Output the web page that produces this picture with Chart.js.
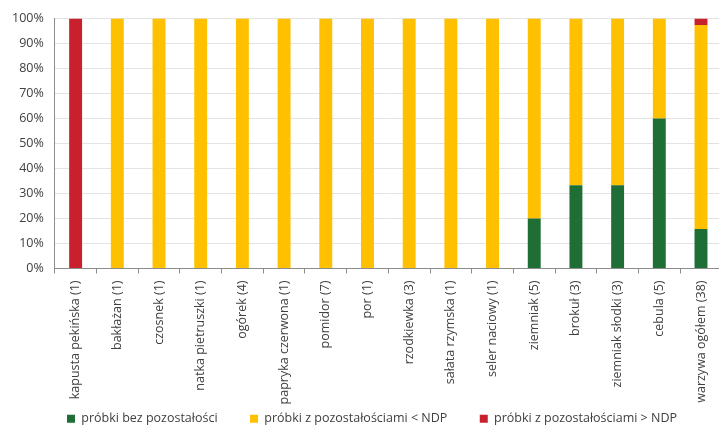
<!DOCTYPE html>
<html>
<head>
<meta charset="utf-8">
<script src="https://cdn.jsdelivr.net/npm/chart.js@4"></script>
<style>
  html, body { margin: 0; padding: 0; background: #fff; overflow: hidden; }
</style>
</head>
<body>
<canvas id="chartCanvas" width="723" height="429"></canvas>
<script>
var categories = ["kapusta pekińska (1)", "bakłażan (1)", "czosnek (1)", "natka pietruszki (1)",
  "ogórek (4)", "papryka czerwona (1)", "pomidor (7)", "por (1)", "rzodkiewka (3)",
  "sałata rzymska (1)", "seler naciowy (1)", "ziemniak (5)", "brokuł (3)",
  "ziemniak słodki (3)", "cebula (5)", "warzywa ogółem (38)"];

var bezPozostalosci = [0, 0, 0, 0, 0, 0, 0, 0, 0, 0, 0, 20, 33.3, 33.3, 60, 15.8];
var ponizejNDP = [0, 100, 100, 100, 100, 100, 100, 100, 100, 100, 100, 80, 66.7, 66.7, 40, 81.6];
var powyzejNDP = [100, 0, 0, 0, 0, 0, 0, 0, 0, 0, 0, 0, 0, 0, 0, 2.6];

var seriesNames = ["próbki bez pozostałości", "próbki z pozostałościami < NDP", "próbki z pozostałościami > NDP"];

var font = "'Open Sans', 'Noto Sans', sans-serif";

var ctx = document.getElementById("chartCanvas");

var data = {
  labels: categories,
  datasets: [
    { label: seriesNames[0], data: bezPozostalosci, backgroundColor: "#1e6e35" },
    { label: seriesNames[1], data: ponizejNDP, backgroundColor: "#ffc000" },
    { label: seriesNames[2], data: powyzejNDP, backgroundColor: "#c8202c" }
  ]
};

// wide gaps between legend items without a tall legend box
var legendGap = "          ";
function legendLabels(chart) {
  var items = Chart.defaults.plugins.legend.labels.generateLabels(chart);
  items.forEach(function (item, i) {
    if (i < items.length - 1) item.text = item.text + legendGap;
  });
  return items;
}

// legend sits a little right of centre in the original
var legendShift = {
  id: "legendShift",
  afterLayout: function (chart) {
    chart.legend.left += 10;
    chart.legend.right += 10;
  }
};

var options = {
  responsive: false,
  animation: false,
  layout: { padding: { top: 14, left: 1, right: 0, bottom: -6 } },
  datasets: {
    bar: { barPercentage: 0.62, categoryPercentage: 0.5 }
  },
  scales: {
    x: {
      stacked: true,
      afterFit: function (scale) { scale.height = 144; },
      grid: { offset: true, drawOnChartArea: false, tickLength: 5, color: "#8c8c8c" },
      border: { color: "#8c8c8c" },
      ticks: {
        minRotation: 90, maxRotation: 90, autoSkip: false,
        color: "#404040", font: { family: font, size: 12.5 }, padding: 7
      }
    },
    y: {
      stacked: true,
      min: 0, max: 100,
      grid: { color: "#e3e3e3", drawTicks: false },
      border: { color: "#8c8c8c" },
      ticks: {
        stepSize: 10,
        color: "#404040", font: { family: font, size: 12.5 }, padding: 11,
        callback: function (v) { return v + "%"; }
      }
    }
  },
  plugins: {
    tooltip: { enabled: false },
    legend: {
      display: true,
      position: "bottom",
      labels: {
        boxWidth: 8, boxHeight: 8, padding: 0,
        color: "#404040", font: { family: font, size: 12.5 },
        generateLabels: legendLabels
      }
    }
  }
};

var chart = new Chart(ctx, { type: "bar", data: data, options: options, plugins: [legendShift] });
</script>
</body>
</html>
